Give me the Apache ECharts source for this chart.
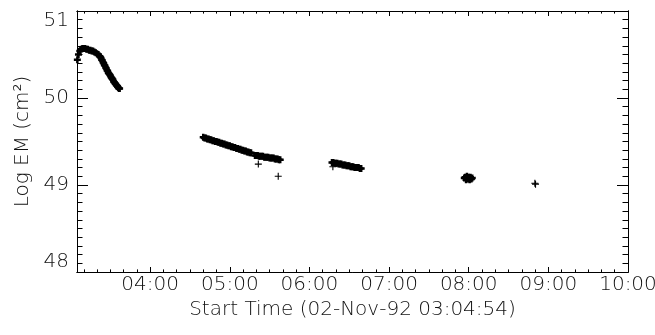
<!DOCTYPE html>
<html><head><meta charset="utf-8">
<script src="https://cdn.jsdelivr.net/npm/echarts@6/dist/echarts.min.js"></script>
<style>html,body{margin:0;padding:0;background:#fff}#c{width:655px;height:335px}</style>
</head><body><div id="c"></div>
<script>
// ---- texts / ticks ----
const xTitle = 'Start Time (02-Nov-92 03:04:54)';
const yTitle = 'Log EM (cm²)';
const xStart = '03:04:54';
const xEnd = '10:00:00';
const xTickLabels = ['04:00', '05:00', '06:00', '07:00', '08:00', '09:00', '10:00'];
const yTickLabels = [48, 49, 50, 51];

// ---- data (time of day, log EM) ----
const seg1Time = ['03:05:10','03:06','03:07','03:08','03:09','03:10','03:11','03:12','03:13','03:14','03:15',
  '03:16','03:17','03:18','03:19','03:20','03:21','03:22','03:22:30','03:23','03:23:30','03:24','03:24:30',
  '03:25','03:25:30','03:26','03:26:30','03:27','03:27:30','03:28','03:28:30','03:29','03:29:30','03:30',
  '03:30:30','03:31','03:31:30','03:32','03:32:30','03:33','03:33:30','03:34','03:34:30','03:35','03:35:30',
  '03:36','03:36:30','03:37'];
const seg1Val = [50.44,50.50,50.54,50.56,50.57,50.57,50.57,50.56,50.56,50.55,50.55,
  50.54,50.54,50.53,50.52,50.51,50.50,50.48,50.47,50.46,50.44,50.43,50.41,
  50.40,50.38,50.37,50.35,50.34,50.32,50.31,50.29,50.28,50.27,50.26,
  50.24,50.23,50.22,50.21,50.19,50.18,50.17,50.16,50.15,50.14,50.13,
  50.12,50.11,50.11];

const seg2Time = ['04:40','04:41','04:42','04:43','04:44','04:45','04:46','04:47','04:48','04:49','04:50',
  '04:51','04:52','04:53','04:54','04:55','04:56','04:57','04:58','04:59','05:00','05:01','05:02','05:03',
  '05:04','05:05','05:06','05:07','05:08','05:09','05:10','05:11','05:12','05:13','05:14','05:15','05:16'];
const seg2Val = [49.55,49.54,49.54,49.53,49.53,49.52,49.52,49.51,49.51,49.50,49.50,
  49.49,49.49,49.48,49.48,49.47,49.47,49.46,49.46,49.45,49.45,49.44,49.44,49.43,
  49.43,49.42,49.42,49.41,49.41,49.40,49.40,49.39,49.39,49.38,49.38,49.37,49.37];

const seg3Time = ['05:19','05:20','05:21','05:22','05:23','05:24','05:25','05:26','05:27','05:28',
  '05:29','05:30','05:31','05:32','05:33','05:34','05:35','05:36','05:37','05:38'];
const seg3Val = [49.34,49.34,49.34,49.33,49.33,49.33,49.33,49.32,49.32,49.32,
  49.32,49.31,49.31,49.31,49.31,49.30,49.30,49.30,49.29,49.29];

const seg4Time = ['06:17','06:18','06:19','06:20','06:21','06:22','06:23','06:24','06:25','06:26','06:27',
  '06:28','06:29','06:30','06:31','06:32','06:33','06:34','06:35','06:36','06:37','06:38','06:39'];
const seg4Val = [49.26,49.26,49.25,49.25,49.25,49.24,49.24,49.24,49.23,49.23,49.23,
  49.22,49.22,49.22,49.21,49.21,49.21,49.20,49.20,49.20,49.20,49.19,49.19];

const seg5Time = ['07:56:40','07:57:20','07:58:00','07:58:40','07:59:20','08:00:00','08:00:40','08:01:20','08:02:00','08:02:40'];
const seg5Val = [49.08,49.09,49.06,49.10,49.07,49.09,49.06,49.09,49.07,49.08];

const seg6Time = ['08:49:50','08:50:20'];
const seg6Val = [49.02,49.01];

const outlierTime = ['05:21:30','05:36:30','06:17:40'];
const outlierVal = [49.24,49.10,49.21];

// ---- helpers ----
function toSec(s) { const p = s.split(':').map(Number); return p[0]*3600 + p[1]*60 + (p[2] || 0); }
function pad(n) { return (n < 10 ? '0' : '') + n; }
function fmt(v) { const m = Math.round(v/60); return pad(Math.floor(m/60)) + ':' + pad(m % 60); }
function pairs(t, v) { return t.map((s, i) => [toSec(s), v[i]]); }

const bandData = [].concat(
  pairs(seg1Time, seg1Val), pairs(seg2Time, seg2Val), pairs(seg3Time, seg3Val),
  pairs(seg4Time, seg4Val), pairs(seg5Time, seg5Val));
const pointData = [].concat(pairs(seg6Time, seg6Val), pairs(outlierTime, outlierVal));

const xMin = toSec(xStart), xMax = toSec(xEnd);
const xMajor = xTickLabels.map(toSec);
const xMinor = [];
for (let t = Math.ceil(xMin/600)*600; t <= xMax; t += 600) xMinor.push(t);
const yMinor = [];
for (let i = 0; i <= 30; i++) yMinor.push(+(48 + i*0.1).toFixed(1));

const FONT = 'DejaVu Sans';
const txt = { fontFamily: FONT, fontSize: 20, fontWeight: 200, color: '#111' };
const line = { onZero: false, lineStyle: { color: '#000', width: 1 } };

function xAx(pos, ticks, len, labels) {
  const a = { type: 'value', position: pos, min: xMin, max: xMax, axisLine: line,
    splitLine: { show: false },
    axisTick: { inside: true, length: len, customValues: ticks, lineStyle: { color: '#000', width: 1 } },
    axisLabel: { show: false } };
  if (labels) {
    a.axisLabel = Object.assign({ show: true, customValues: xMajor, formatter: fmt, margin: 3 }, txt);
    a.name = xTitle; a.nameLocation = 'middle'; a.nameGap = 24;
    a.nameTextStyle = Object.assign({}, txt);
  }
  return a;
}
function yAx(pos, ticks, len, labels) {
  const a = { type: 'value', position: pos, min: 48, max: 51, axisLine: line,
    splitLine: { show: false },
    axisTick: { inside: true, length: len, customValues: ticks, lineStyle: { color: '#000', width: 1 } },
    axisLabel: { show: false } };
  if (labels) {
    a.axisLabel = Object.assign({ show: true, customValues: yTickLabels, margin: 8,
      verticalAlignMinLabel: 'bottom', verticalAlignMaxLabel: 'top' }, txt);
    a.name = yTitle; a.nameLocation = 'middle'; a.nameGap = 40; a.nameRotate = 90;
    a.nameTextStyle = Object.assign({}, txt);
  }
  return a;
}

const chart = echarts.init(document.getElementById('c'), null, { renderer: 'canvas' });
chart.setOption({
  animation: false,
  backgroundColor: '#fff',
  grid: { left: 77, right: 27, top: 11, bottom: 63, containLabel: false, outerBoundsMode: 'none' },
  xAxis: [
    xAx('bottom', xMajor, 5, true),
    xAx('top', xMajor, 5, false),
    xAx('bottom', xMinor, 2.6, false),
    xAx('top', xMinor, 2.6, false)
  ],
  yAxis: [
    yAx('left', yTickLabels, 11, true),
    yAx('right', yTickLabels, 11, false),
    yAx('left', yMinor, 5.5, false),
    yAx('right', yMinor, 5.5, false)
  ],
  series: [{
    type: 'scatter', xAxisIndex: 0, yAxisIndex: 0,
    symbol: 'path://M5,0L5,10M0,5L10,5', symbolSize: 7,
    itemStyle: { color: 'rgba(0,0,0,0)', borderColor: '#000', borderWidth: 2.5, opacity: 1 },
    emphasis: { disabled: true },
    data: bandData
  }, {
    type: 'scatter', xAxisIndex: 0, yAxisIndex: 0,
    symbol: 'path://M5,0L5,10M0,5L10,5', symbolSize: 7,
    itemStyle: { color: 'rgba(0,0,0,0)', borderColor: '#000', borderWidth: 1.1, opacity: 1 },
    emphasis: { disabled: true },
    data: pointData
  }]
});
</script></body></html>
